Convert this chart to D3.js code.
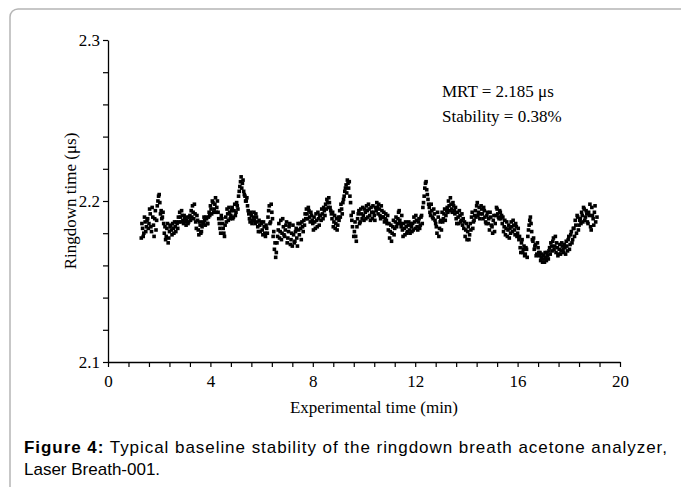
<!DOCTYPE html>
<html>
<head>
<meta charset="utf-8">
<script src="https://cdn.jsdelivr.net/npm/d3@7"></script>
<style>
  body { margin: 0; background: #fff; }
  svg text { font-family: "Liberation Serif", "Times New Roman", serif; }
  .caption { font-family: "Liberation Sans", Arial, sans-serif; }
</style>
</head>
<body>
<div id="content"></div>
<script>
// ringdown time (us) against experimental time (min)
const samples = [
  [1.30,2.177],[1.35,2.183],[1.40,2.180],[1.45,2.187],[1.50,2.184],[1.55,2.189],
  [1.60,2.186],[1.65,2.192],[1.70,2.181],[1.75,2.190],[1.80,2.178],[1.85,2.194],[1.90,2.188],
  [1.95,2.200],[2.00,2.204],[2.05,2.192],[2.10,2.189],[2.15,2.193],
  [2.20,2.180],[2.25,2.176],[2.30,2.183],[2.35,2.174],[2.40,2.181],
  [2.45,2.185],[2.50,2.179],[2.55,2.183],[2.60,2.187],[2.65,2.181],[2.70,2.186],
  [2.75,2.190],[2.80,2.193],[2.85,2.187],[2.90,2.191],
  [2.95,2.186],[3.00,2.189],[3.05,2.185],[3.10,2.190],[3.15,2.187],[3.20,2.191],
  [3.25,2.194],[3.30,2.197],[3.35,2.189],[3.40,2.192],
  [3.45,2.183],[3.50,2.188],[3.55,2.179],[3.60,2.185],[3.65,2.181],
  [3.70,2.187],[3.75,2.190],[3.80,2.185],[3.85,2.189],[3.90,2.186],
  [3.95,2.193],[4.00,2.197],[4.05,2.192],[4.10,2.199],[4.15,2.195],[4.20,2.202],[4.25,2.196],[4.30,2.193],
  [4.35,2.186],[4.40,2.180],[4.45,2.189],[4.50,2.183],[4.55,2.178],
  [4.60,2.190],[4.65,2.195],[4.70,2.188],[4.75,2.193],
  [4.80,2.191],[4.85,2.196],[4.90,2.190],[4.95,2.198],[5.00,2.193],[5.05,2.197],
  [5.10,2.203],[5.15,2.209],[5.20,2.215],[5.25,2.211],[5.30,2.206],[5.35,2.203],
  [5.40,2.200],[5.45,2.197],
  [5.50,2.192],[5.55,2.187],[5.60,2.191],[5.65,2.188],[5.70,2.193],[5.75,2.186],[5.80,2.190],
  [5.85,2.184],[5.90,2.188],[5.95,2.181],[6.00,2.186],[6.05,2.179],[6.10,2.184],[6.15,2.178],[6.20,2.183],
  [6.25,2.190],[6.30,2.197],[6.35,2.187],[6.40,2.193],
  [6.45,2.178],[6.50,2.170],[6.55,2.165],[6.60,2.174],
  [6.65,2.182],[6.70,2.177],[6.75,2.188],[6.80,2.180],[6.85,2.184],
  [6.90,2.178],[6.95,2.185],[7.00,2.174],[7.05,2.181],[7.10,2.186],[7.15,2.176],
  [7.20,2.172],[7.25,2.179],[7.30,2.175],[7.35,2.183],[7.40,2.172],
  [7.45,2.182],[7.50,2.186],[7.55,2.176],[7.60,2.184],[7.65,2.188],
  [7.70,2.192],[7.75,2.195],[7.80,2.189],[7.85,2.194],[7.90,2.187],[7.95,2.191],
  [8.00,2.186],[8.05,2.190],[8.10,2.183],[8.15,2.188],[8.20,2.193],[8.25,2.185],
  [8.30,2.191],[8.35,2.195],[8.40,2.189],[8.45,2.194],
  [8.50,2.198],[8.55,2.201],[8.60,2.196],[8.65,2.199],[8.70,2.194],
  [8.75,2.189],[8.80,2.184],[8.85,2.191],[8.90,2.186],[8.95,2.182],[9.00,2.190],
  [9.05,2.194],[9.10,2.198],[9.15,2.192],
  [9.20,2.201],[9.25,2.206],[9.30,2.210],[9.35,2.213],[9.40,2.208],[9.45,2.203],
  [9.50,2.191],[9.55,2.184],[9.60,2.178],[9.65,2.187],[9.70,2.175],
  [9.75,2.189],[9.80,2.194],[9.85,2.187],[9.90,2.192],[9.95,2.196],[10.00,2.188],
  [10.05,2.193],[10.10,2.197],[10.15,2.190],[10.20,2.195],[10.25,2.188],[10.30,2.193],
  [10.35,2.197],[10.40,2.191],[10.45,2.196],[10.50,2.199],[10.55,2.192],[10.60,2.195],[10.65,2.189],[10.70,2.194],
  [10.75,2.190],[10.80,2.187],[10.85,2.192],[10.90,2.186],
  [10.95,2.182],[11.00,2.177],[11.05,2.185],[11.10,2.180],[11.15,2.188],[11.20,2.183],
  [11.25,2.190],[11.30,2.186],[11.35,2.193],[11.40,2.188],[11.45,2.184],
  [11.50,2.182],[11.55,2.186],[11.60,2.179],[11.65,2.184],[11.70,2.181],[11.75,2.187],[11.80,2.180],[11.85,2.184],
  [11.90,2.186],[11.95,2.190],[12.00,2.183],[12.05,2.188],[12.10,2.182],[12.15,2.189],[12.20,2.185],[12.25,2.191],
  [12.30,2.196],[12.35,2.203],[12.40,2.211],[12.45,2.207],[12.50,2.201],
  [12.55,2.196],[12.60,2.191],[12.65,2.194],[12.70,2.189],[12.75,2.192],
  [12.80,2.186],[12.85,2.180],[12.90,2.190],[12.95,2.183],[13.00,2.188],
  [13.05,2.193],[13.10,2.189],[13.15,2.195],[13.20,2.191],
  [13.25,2.196],[13.30,2.200],[13.35,2.194],[13.40,2.198],[13.45,2.193],[13.50,2.197],[13.55,2.192],
  [13.60,2.189],[13.65,2.193],[13.70,2.186],[13.75,2.191],[13.80,2.188],[13.85,2.185],
  [13.90,2.183],[13.95,2.178],[14.00,2.186],[14.05,2.181],[14.10,2.176],
  [14.15,2.186],[14.20,2.190],[14.25,2.183],[14.30,2.188],
  [14.35,2.194],[14.40,2.197],[14.45,2.191],[14.50,2.196],[14.55,2.192],[14.60,2.195],
  [14.65,2.189],[14.70,2.194],[14.75,2.187],[14.80,2.191],
  [14.85,2.186],[14.90,2.182],[14.95,2.190],[15.00,2.184],[15.05,2.188],[15.10,2.181],
  [15.15,2.191],[15.20,2.195],[15.25,2.190],[15.30,2.194],[15.35,2.189],
  [15.40,2.186],[15.45,2.181],[15.50,2.188],[15.55,2.183],[15.60,2.178],[15.65,2.185],
  [15.70,2.183],[15.75,2.187],[15.80,2.181],[15.85,2.185],[15.90,2.179],[15.95,2.184],[16.00,2.180],
  [16.05,2.176],[16.10,2.171],[16.15,2.174],[16.20,2.168],[16.25,2.172],
  [16.30,2.167],[16.35,2.170],
  [16.40,2.178],[16.45,2.185],[16.50,2.190],[16.55,2.181],
  [16.60,2.175],[16.65,2.170],[16.70,2.173],[16.75,2.167],[16.80,2.171],
  [16.85,2.166],[16.90,2.163],[16.95,2.167],[17.00,2.164],[17.05,2.162],[17.10,2.165],
  [17.15,2.168],[17.20,2.164],[17.25,2.171],[17.30,2.174],[17.35,2.169],[17.40,2.177],[17.45,2.172],
  [17.50,2.168],[17.55,2.171],[17.60,2.167],[17.65,2.173],[17.70,2.169],[17.75,2.172],[17.80,2.168],[17.85,2.171],
  [17.90,2.175],[17.95,2.169],[18.00,2.178],[18.05,2.173],[18.10,2.181],[18.15,2.176],
  [18.20,2.183],[18.25,2.188],[18.30,2.180],[18.35,2.190],[18.40,2.185],
  [18.45,2.189],[18.50,2.193],[18.55,2.187],[18.60,2.195],[18.65,2.190],[18.70,2.192],
  [18.75,2.186],[18.80,2.191],[18.85,2.184],[18.90,2.196],[18.95,2.189],[19.00,2.193],[19.05,2.187],[19.10,2.190]
];
// the in-between readings of the same run
const samplesMid = [
  [1.325,2.186],[1.375,2.178],[1.425,2.190],[1.475,2.181],[1.525,2.188],[1.575,2.183],
  [1.625,2.195],[1.675,2.184],[1.725,2.196],[1.775,2.185],[1.825,2.189],[1.875,2.182],
  [1.925,2.197],[1.975,2.203],[2.025,2.199],[2.075,2.194],[2.125,2.190],[2.175,2.186],
  [2.225,2.184],[2.275,2.178],[2.325,2.186],[2.375,2.177],[2.425,2.184],
  [2.475,2.182],[2.525,2.186],[2.575,2.180],[2.625,2.184],[2.675,2.187],[2.725,2.183],
  [2.775,2.187],[2.825,2.190],[2.875,2.194],[2.925,2.188],
  [2.975,2.191],[3.025,2.187],[3.075,2.188],[3.125,2.186],[3.175,2.190],[3.225,2.188],
  [3.275,2.190],[3.325,2.193],[3.375,2.198],[3.425,2.187],
  [3.475,2.191],[3.525,2.182],[3.575,2.187],[3.625,2.180],[3.675,2.184],
  [3.725,2.186],[3.775,2.188],[3.825,2.190],[3.875,2.186],[3.925,2.190],
  [3.975,2.191],[4.025,2.195],[4.075,2.200],[4.125,2.193],[4.175,2.198],[4.225,2.193],[4.275,2.200],[4.325,2.189],
  [4.375,2.183],[4.425,2.191],[4.475,2.186],[4.525,2.180],[4.575,2.185],
  [4.625,2.187],[4.675,2.192],[4.725,2.196],[4.775,2.189],
  [4.825,2.194],[4.875,2.189],[4.925,2.194],[4.975,2.191],[5.025,2.199],[5.075,2.195],
  [5.125,2.206],[5.175,2.212],[5.225,2.208],[5.275,2.213],[5.325,2.204],[5.375,2.200],
  [5.425,2.202],[5.475,2.194],
  [5.525,2.189],[5.575,2.193],[5.625,2.186],[5.675,2.190],[5.725,2.188],[5.775,2.192],[5.825,2.187],
  [5.875,2.181],[5.925,2.185],[5.975,2.187],[6.025,2.182],[6.075,2.187],[6.125,2.180],[6.175,2.185],[6.225,2.180],
  [6.275,2.194],[6.325,2.186],[6.375,2.198],[6.425,2.189],
  [6.475,2.181],[6.525,2.174],[6.575,2.168],[6.625,2.178],
  [6.675,2.186],[6.725,2.181],[6.775,2.176],[6.825,2.189],[6.875,2.179],
  [6.925,2.182],[6.975,2.187],[7.025,2.177],[7.075,2.184],[7.125,2.173],[7.175,2.180],
  [7.225,2.185],[7.275,2.174],[7.325,2.181],[7.375,2.177],[7.425,2.186],
  [7.475,2.179],[7.525,2.183],[7.575,2.187],[7.625,2.181],[7.675,2.185],
  [7.725,2.189],[7.775,2.192],[7.825,2.196],[7.875,2.190],[7.925,2.193],[7.975,2.188],
  [8.025,2.182],[8.075,2.187],[8.125,2.192],[8.175,2.184],[8.225,2.189],[8.275,2.191],
  [8.325,2.188],[8.375,2.192],[8.425,2.196],[8.475,2.191],
  [8.525,2.195],[8.575,2.199],[8.625,2.202],[8.675,2.196],[8.725,2.192],
  [8.775,2.193],[8.825,2.187],[8.875,2.183],[8.925,2.189],[8.975,2.185],[9.025,2.188],
  [9.075,2.190],[9.125,2.195],[9.175,2.199],
  [9.225,2.203],[9.275,2.208],[9.325,2.205],[9.375,2.211],[9.425,2.212],[9.475,2.199],
  [9.525,2.188],[9.575,2.193],[9.625,2.181],[9.675,2.178],[9.725,2.184],
  [9.775,2.192],[9.825,2.186],[9.875,2.195],[9.925,2.189],[9.975,2.191],[10.025,2.195],
  [10.075,2.189],[10.125,2.194],[10.175,2.198],[10.225,2.191],[10.275,2.196],[10.325,2.189],
  [10.375,2.193],[10.425,2.188],[10.475,2.194],[10.525,2.196],[10.575,2.198],[10.625,2.191],[10.675,2.197],[10.725,2.190],
  [10.775,2.193],[10.825,2.189],[10.875,2.188],[10.925,2.191],
  [10.975,2.186],[11.025,2.181],[11.075,2.175],[11.125,2.184],[11.175,2.179],[11.225,2.187],
  [11.275,2.184],[11.325,2.189],[11.375,2.194],[11.425,2.186],[11.475,2.191],
  [11.525,2.178],[11.575,2.183],[11.625,2.187],[11.675,2.180],[11.725,2.185],[11.775,2.182],[11.825,2.186],[11.875,2.181],
  [11.925,2.182],[11.975,2.187],[12.025,2.191],[12.075,2.184],[12.125,2.187],[12.175,2.183],[12.225,2.190],[12.275,2.186],
  [12.325,2.199],[12.375,2.208],[12.425,2.212],[12.475,2.204],[12.525,2.198],
  [12.575,2.193],[12.625,2.198],[12.675,2.190],[12.725,2.195],[12.775,2.188],
  [12.825,2.184],[12.875,2.193],[12.925,2.178],[12.975,2.187],[13.025,2.182],
  [13.075,2.187],[13.125,2.192],[13.175,2.188],[13.225,2.194],
  [13.275,2.193],[13.325,2.197],[13.375,2.202],[13.425,2.195],[13.475,2.199],[13.525,2.194],[13.575,2.196],
  [13.625,2.186],[13.675,2.190],[13.725,2.194],[13.775,2.187],[13.825,2.192],[13.875,2.189],
  [13.925,2.187],[13.975,2.182],[14.025,2.176],[14.075,2.184],[14.125,2.179],
  [14.175,2.182],[14.225,2.193],[14.275,2.187],[14.325,2.191],
  [14.375,2.190],[14.425,2.199],[14.475,2.193],[14.525,2.189],[14.575,2.197],[14.625,2.192],
  [14.675,2.196],[14.725,2.190],[14.775,2.186],[14.825,2.193],
  [14.875,2.189],[14.925,2.193],[14.975,2.185],[15.025,2.180],[15.075,2.191],[15.125,2.186],
  [15.175,2.196],[15.225,2.192],[15.275,2.189],[15.325,2.193],[15.375,2.191],
  [15.425,2.190],[15.475,2.184],[15.525,2.179],[15.575,2.187],[15.625,2.182],[15.675,2.177],
  [15.725,2.180],[15.775,2.184],[15.825,2.188],[15.875,2.182],[15.925,2.186],[15.975,2.178],[16.025,2.183],
  [16.075,2.178],[16.125,2.168],[16.175,2.176],[16.225,2.170],[16.275,2.166],
  [16.325,2.171],[16.375,2.165],
  [16.425,2.182],[16.475,2.188],[16.525,2.186],[16.575,2.176],
  [16.625,2.177],[16.675,2.172],[16.725,2.166],[16.775,2.174],[16.825,2.168],
  [16.875,2.168],[16.925,2.165],[16.975,2.162],[17.025,2.166],[17.075,2.168],[17.125,2.163],
  [17.175,2.166],[17.225,2.169],[17.275,2.167],[17.325,2.172],[17.375,2.175],[17.425,2.170],[17.475,2.178],
  [17.525,2.174],[17.575,2.166],[17.625,2.170],[17.675,2.167],[17.725,2.174],[17.775,2.170],[17.825,2.173],[17.875,2.167],
  [17.925,2.172],[17.975,2.176],[18.025,2.170],[18.075,2.179],[18.125,2.174],[18.175,2.183],
  [18.225,2.178],[18.275,2.185],[18.325,2.191],[18.375,2.182],[18.425,2.188],
  [18.475,2.186],[18.525,2.191],[18.575,2.196],[18.625,2.188],[18.675,2.194],[18.725,2.187],
  [18.775,2.193],[18.825,2.198],[18.875,2.182],[18.925,2.191],[18.975,2.185],[19.025,2.197]
];
const xLabels = [0, 4, 8, 12, 16, 20];
const yLabels = [2.1, 2.2, 2.3];
const notes = ["MRT = 2.185 \u03bcs", "Stability = 0.38%"];

const W = 681, H = 487;
const mLeft = 108, mRight = 620, mTop = 40, mBottom = 362;

const svg = d3.select("#content").append("svg")
  .attr("width", W).attr("height", H);

// figure frame
svg.append("rect")
  .attr("x", 10).attr("y", 9)
  .attr("width", 690).attr("height", 520)
  .attr("rx", 8)
  .attr("fill", "none")
  .attr("stroke", "#b5b5b5")
  .attr("stroke-width", 1.5);

const x = d3.scaleLinear().domain([0, 20]).range([mLeft, mRight]);
const y = d3.scaleLinear().domain([2.1, 2.3]).range([mBottom, mTop]);

const xTicks = d3.range(0, 26).map(i => i * 0.8);
const yTicks = d3.range(0, 11).map(i => 2.1 + i * 0.02);

const xAxis = d3.axisBottom(x)
  .tickValues(xTicks)
  .tickSize(5).tickSizeOuter(0).tickPadding(8)
  .tickFormat(d => xLabels.some(v => Math.abs(v - d) < 1e-6) ? d3.format("d")(Math.round(d)) : "");
const yAxis = d3.axisLeft(y)
  .tickValues(yTicks)
  .tickSize(5).tickSizeOuter(0).tickPadding(3)
  .tickFormat(d => yLabels.some(v => Math.abs(v - d) < 1e-6) ? d3.format(".1f")(d) : "");

function style(g) {
  g.select(".domain").attr("stroke", "#000").attr("stroke-width", 1.3);
  g.selectAll(".tick line").attr("stroke", "#000").attr("stroke-width", 1.2);
  g.selectAll(".tick text")
    .attr("fill", "#000")
    .style("font-family", "'Liberation Serif', serif")
    .style("font-size", "17px");
}

svg.append("g").attr("transform", `translate(0,${mBottom})`).call(xAxis).call(style);
svg.append("g").attr("transform", `translate(${mLeft},0)`).call(yAxis).call(style);

// data points
svg.append("g").selectAll("rect")
  .data(samples.concat(samplesMid))
  .enter().append("rect")
    .attr("x", d => x(d[0]) - 1.8)
    .attr("y", d => y(d[1]) - 1.8)
    .attr("width", 3.6).attr("height", 3.6)
    .attr("fill", "#000");

// axis titles
svg.append("text")
  .attr("x", (mLeft + mRight) / 2 + 10).attr("y", 413)
  .attr("text-anchor", "middle")
  .style("font-size", "17px")
  .text("Experimental time (min)");

svg.append("text")
  .attr("transform", `translate(76,${(mTop + mBottom) / 2}) rotate(-90)`)
  .attr("text-anchor", "middle")
  .style("font-size", "17px")
  .text("Ringdown time (\u03bcs)");

svg.selectAll(".note")
  .data(notes)
  .enter().append("text")
    .attr("class", "note")
    .attr("x", 442)
    .attr("y", (d, i) => 97 + i * 25)
    .style("font-size", "17px")
    .text(d => d);

// caption
const cap = svg.append("text")
  .attr("class", "caption")
  .attr("x", 24).attr("y", 453)
  .attr("textLength", 643)
  .attr("lengthAdjust", "spacing")
  .style("font-size", "17px");
cap.append("tspan").attr("font-weight", "bold").text("Figure 4:");
cap.append("tspan").text(" Typical baseline stability of the ringdown breath acetone analyzer,");

svg.append("text")
  .attr("class", "caption")
  .attr("x", 24).attr("y", 475)
  .style("font-size", "17px")
  .text("Laser Breath-001.");
</script>
</body>
</html>
